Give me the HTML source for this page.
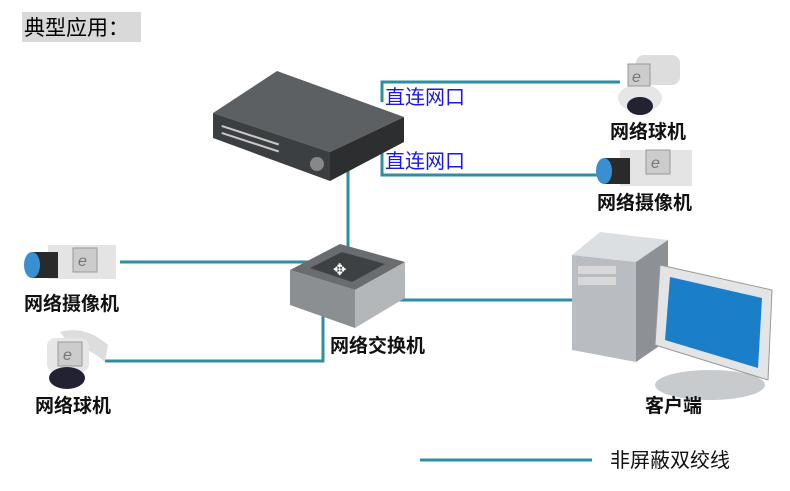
<!DOCTYPE html>
<html><head><meta charset="utf-8"><style>
html,body{margin:0;padding:0;background:#fff;}
svg{display:block;}
text{font-family:"Liberation Sans","Noto Sans CJK SC",sans-serif;}
.lb{font-size:19px;font-weight:bold;fill:#111;}
.ln{stroke:#2e8fa0;stroke-width:3;fill:none;}
</style></head><body>
<svg width="790" height="491" viewBox="0 0 790 491" xmlns="http://www.w3.org/2000/svg">
<rect x="22" y="12" width="119" height="30" fill="#d9d9d9"/>
<text x="24" y="35" font-size="21" fill="#000">典型应用：</text>

<polyline class="ln" points="620,82 382,82 382,102"/>
<polyline class="ln" points="600,175 382,175 382,152"/>
<line class="ln" x1="348" y1="170" x2="348" y2="262"/>
<line class="ln" x1="120" y1="262" x2="312" y2="262"/>
<polyline class="ln" points="105,361 323,361 323,312"/>
<line class="ln" x1="398" y1="300" x2="574" y2="300"/>
<line class="ln" x1="420" y1="460" x2="592" y2="460"/>

<polygon points="213,113 277,71 404,117 330,152" fill="#5d6062"/>
<polygon points="213,113 330,152 330,181 213,138" fill="#3c3f41"/>
<polygon points="330,152 404,117 404,142 330,181" fill="#2c2e30"/>
<g fill="#c8c8c8">
<rect x="222" y="125" width="60" height="2" transform="rotate(18 222 125)"/>
<rect x="222" y="132" width="60" height="2" transform="rotate(18 222 132)"/>
</g>
<circle cx="317" cy="164" r="7" fill="#888"/>

<polygon points="290,270 340,244 405,262 355,290" fill="#6a6d70"/>
<polygon points="310,268 342,252 385,264 352,282" fill="#3e4144"/>
<polygon points="290,270 355,290 355,328 290,305" fill="#8c8f92"/>
<polygon points="355,290 405,262 405,298 355,328" fill="#b4b7ba"/>
<text x="333" y="275" font-size="16" fill="#fff">✥</text>

<g>
<rect x="636" y="55" width="44" height="30" rx="8" fill="#ddd"/>
<ellipse cx="640" cy="98" rx="22" ry="14" fill="#e6e6e6"/>
<ellipse cx="640" cy="106" rx="13" ry="9" fill="#223"/>
<rect x="628" y="64" width="22" height="22" fill="#ccc" stroke="#999"/>
<text x="632" y="82" font-size="16" fill="#777" font-style="italic">e</text>
</g>
<g>
<rect x="620" y="150" width="72" height="36" fill="#e4e4e4"/>
<rect x="604" y="158" width="26" height="26" fill="#2a2a2a"/>
<ellipse cx="604" cy="171" rx="8" ry="13" fill="#3a8fd0"/>
<rect x="646" y="150" width="24" height="24" fill="#ccc" stroke="#999"/>
<text x="651" y="168" font-size="16" fill="#777" font-style="italic">e</text>
</g>
<g>
<rect x="48" y="245" width="68" height="34" fill="#e4e4e4"/>
<rect x="32" y="252" width="26" height="26" fill="#2a2a2a"/>
<ellipse cx="32" cy="265" rx="8" ry="13" fill="#3a8fd0"/>
<rect x="73" y="248" width="24" height="24" fill="#ccc" stroke="#999"/>
<text x="78" y="266" font-size="16" fill="#777" font-style="italic">e</text>
</g>
<g>
<path d="M60,332 Q85,325 108,345 L105,362 Q90,348 70,345 Z" fill="#ddd"/>
<rect x="47" y="338" width="42" height="34" rx="8" fill="#e6e6e6"/>
<ellipse cx="67" cy="378" rx="18" ry="11" fill="#223"/>
<rect x="58" y="342" width="24" height="24" fill="#ccc" stroke="#999"/>
<text x="63" y="360" font-size="16" fill="#777" font-style="italic">e</text>
</g>

<polygon points="572,255 600,232 668,240 636,262" fill="#dcdfe2"/>
<polygon points="572,255 636,262 636,362 572,350" fill="#b9bdc1"/>
<polygon points="636,262 668,240 668,340 636,362" fill="#8d9196"/>
<rect x="578" y="266" width="38" height="8" fill="#d8d8d8"/>
<rect x="578" y="277" width="38" height="8" fill="#d8d8d8"/>
<ellipse cx="710" cy="385" rx="55" ry="15" fill="#c8cbce"/>
<polygon points="660,265 772,290 768,380 655,345" fill="#e2e4e6" stroke="#999"/>
<polygon points="670,277 762,298 758,368 665,340" fill="#1a7fc8"/>
<text x="645" y="412" class="lb">客户端</text>

<text x="385" y="104" font-size="20" fill="#1a1ae0">直连网口</text>
<text x="385" y="168" font-size="20" fill="#1a1ae0">直连网口</text>
<text x="610" y="138" class="lb">网络球机</text>
<text x="597" y="209" class="lb">网络摄像机</text>
<text x="24" y="310" class="lb">网络摄像机</text>
<text x="330" y="352" class="lb">网络交换机</text>
<text x="35" y="412" class="lb">网络球机</text>
<text x="610" y="467" font-size="20" fill="#111">非屏蔽双绞线</text>
</svg>
</body></html>
